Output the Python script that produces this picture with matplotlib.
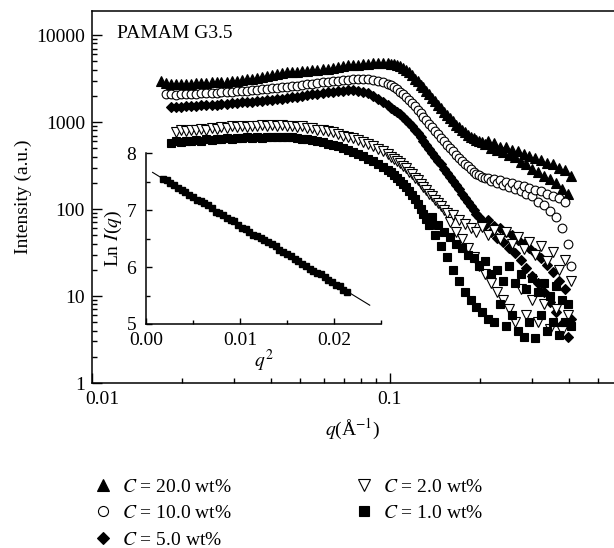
import matplotlib
matplotlib.use("Agg")
import matplotlib.pyplot as plt
import matplotlib.transforms as mtransforms
from matplotlib.ticker import LogLocator, MultipleLocator, NullFormatter
import numpy as np

nan = float("nan")

# q grid (1/Angstrom)
Q = [0.0170, 0.0177, 0.0184, 0.0191, 0.0199, 0.0207, 0.0215, 0.0224, 0.0233, 0.0242,
     0.0252, 0.0262, 0.0272, 0.0283, 0.0294, 0.0306, 0.0318, 0.0331, 0.0344, 0.0358,
     0.0372, 0.0387, 0.0402, 0.0418, 0.0435, 0.0452, 0.0470, 0.0489, 0.0508, 0.0528,
     0.0549, 0.0571, 0.0594, 0.0618, 0.0642, 0.0668, 0.0694, 0.0722, 0.0751, 0.0781,
     0.0812, 0.0844, 0.0878, 0.0913, 0.0949, 0.0987,
     0.1010, 0.1033, 0.1057, 0.1081, 0.1106, 0.1131, 0.1157, 0.1184, 0.1211, 0.1239,
     0.1267, 0.1296, 0.1326, 0.1357, 0.1388, 0.1420, 0.1452, 0.1486, 0.1520, 0.1555,
     0.1591, 0.1627, 0.1665, 0.1703, 0.1742, 0.1782, 0.1823, 0.1865, 0.1908, 0.1952,
     0.1997, 0.2043, 0.2090, 0.2138, 0.2187, 0.2237, 0.2289, 0.2341, 0.2395, 0.2450,
     0.2507, 0.2564, 0.2623, 0.2684, 0.2746, 0.2809, 0.2873, 0.2939, 0.3007, 0.3076,
     0.3147, 0.3219, 0.3293, 0.3369, 0.3446, 0.3526, 0.3607, 0.3690, 0.3775, 0.3861,
     0.3950, 0.4041]

I_20 = [3000, 2820, 2750, 2760, 2740, 2770, 2750, 2790, 2810, 2800,
        2850, 2880, 2870, 2920, 2950, 2980, 3020, 3090, 3160, 3240,
        3310, 3390, 3470, 3550, 3630, 3720, 3760, 3800, 3850, 3890,
        3940, 3980, 4030, 4070, 4170, 4270, 4370, 4470, 4520, 4570,
        4620, 4680, 4730, 4790, 4790, 4730,
        4680, 4620, 4520, 4370, 4220, 3980, 3720, 3470, 3160, 2950,
        2690, 2510, 2290, 2090, 1910, 1740, 1580, 1450, 1320, 1200,
        1100, 1020, 930, 870, 810, 760, 710, 680, 650, 620,
        600, 590, 560, 600, 500, 570, 480, 520, 450, 510,
        420, 480, 400, 460, 350, 430, 330, 410, 290, 390,
        270, 370, 240, 340, 220, 330, 200, 300, 170, 280,
        150, 240]

I_10 = [nan, 2100, 2080, 2060, 2090, 2080, 2120, 2110, 2150, 2140,
        2180, 2170, 2210, 2230, 2220, 2260, 2280, 2300, 2330, 2360,
        2380, 2410, 2440, 2480, 2510, 2550, 2590, 2630, 2680, 2720,
        2770, 2820, 2870, 2910, 2960, 3000, 3040, 3070, 3100, 3120,
        3130, 3120, 3080, 3000, 2900, 2760,
        2650, 2520, 2380, 2230, 2080, 1950, 1800, 1650, 1510, 1380,
        1260, 1150, 1050, 960, 870, 790, 720, 660, 600, 550,
        500, 460, 420, 390, 360, 330, 310, 290, 270, 255,
        245, 235, 225, 230, 210, 220, 200, 215, 190, 205,
        180, 200, 170, 190, 160, 185, 150, 175, 140, 165,
        120, 160, 110, 150, 95, 140, 80, 135, 60, 120,
        40, 22]

I_5 = [nan, nan, 1480, 1500, 1490, 1520, 1510, 1540, 1550, 1560,
       1580, 1590, 1610, 1620, 1640, 1660, 1680, 1700, 1720, 1740,
       1760, 1780, 1800, 1830, 1860, 1890, 1920, 1960, 2000, 2040,
       2080, 2120, 2160, 2200, 2240, 2270, 2300, 2320, 2310, 2280,
       2220, 2130, 2000, 1850, 1720, 1590,
       1450, 1380, 1310, 1240, 1150, 1060, 970, 890, 810, 740,
       670, 610, 550, 495, 445, 400, 360, 325, 290, 260,
       235, 210, 190, 170, 150, 135, 120, 108, 98, 88,
       80, 72, 66, 74, 55, 64, 47, 60, 42, 54,
       36, 50, 31, 44, 26, 40, 21, 36, 17, 31,
       14, 27, 11, 23, 8.5, 19, 6.5, 15, 4.8, 12,
       3.4, 5.5]

I_2 = [nan, nan, nan, 760, 800, 780, 820, 800, 840, 820,
       860, 840, 880, 860, 890, 870, 900, 880, 910, 890,
       920, 900, 930, 905, 925, 900, 910, 880, 890, 860,
       850, 820, 800, 780, 760, 730, 700, 680, 650, 620,
       590, 560, 530, 495, 460, 425,
       400, 380, 360, 340, 315, 295, 270, 250, 230, 215,
       195, 180, 165, 150, 140, 128, 118, 108, 98, 90,
       70, 85, 55, 75, 45, 68, 36, 60, 28, 55,
       22, 62, 18, 50, 14, 58, 11, 45, 9, 55,
       7, 40, 5, 48, 12, 35, 6, 42, 9, 30,
       5, 38, 8, 25, 4.2, 32, 7, 20, 4, 26,
       6, 15]

I_1 = [nan, nan, 580, 600, 590, 610, 600, 620, 610, 630,
       620, 640, 630, 650, 640, 660, 650, 665, 655, 670,
       660, 675, 665, 680, 670, 675, 665, 660, 645, 640,
       620, 605, 585, 565, 545, 525, 500, 480, 455, 430,
       405, 380, 355, 330, 305, 280,
       265, 245, 230, 212, 195, 178, 160, 145, 130, 115,
       100, 88, 76, 66, 80, 50, 65, 38, 55, 28,
       48, 20, 40, 15, 36, 11, 30, 9, 27, 7.5,
       22, 6.5, 25, 5.5, 18, 5, 20, 8, 15, 4.5,
       22, 6, 14, 4, 18, 3.4, 12, 5, 16, 3.3,
       11, 6, 14, 4, 10, 5, 13, 3.6, 9, 5,
       8, 4.5]

LABELS = ["$C$ = 20.0 wt%", "$C$ = 10.0 wt%", "$C$ = 5.0 wt%",
          "$C$ = 2.0 wt%", "$C$ = 1.0 wt%"]

# inset: Guinier plot, ln I against q^2
INSET_Q2 = [0.0018, 0.0022, 0.0026, 0.0030, 0.0034, 0.0038, 0.0042, 0.0046, 0.0050, 0.0054,
            0.0058, 0.0062, 0.0066, 0.0070, 0.0074, 0.0078, 0.0082, 0.0086, 0.0090, 0.0094,
            0.0098, 0.0102, 0.0106, 0.0110, 0.0114, 0.0118, 0.0122, 0.0126, 0.0130, 0.0134,
            0.0138, 0.0142, 0.0146, 0.0150, 0.0154, 0.0158, 0.0162, 0.0166, 0.0170, 0.0174,
            0.0178, 0.0182, 0.0186, 0.0190, 0.0194, 0.0198, 0.0202, 0.0206, 0.0210, 0.0214]
INSET_LN = [7.55, 7.52, 7.47, 7.44, 7.39, 7.35, 7.31, 7.26, 7.23, 7.18,
            7.15, 7.12, 7.09, 7.03, 6.97, 6.94, 6.91, 6.86, 6.83, 6.80,
            6.74, 6.69, 6.66, 6.62, 6.57, 6.54, 6.51, 6.47, 6.43, 6.40,
            6.36, 6.30, 6.26, 6.23, 6.19, 6.14, 6.10, 6.05, 6.02, 5.97,
            5.93, 5.90, 5.87, 5.82, 5.77, 5.74, 5.69, 5.66, 5.60, 5.56]
FIT_Q2 = [0.0007, 0.0238]
FIT_LN = [7.66, 5.33]

for name, arr in [("I_20", I_20), ("I_10", I_10), ("I_5", I_5), ("I_2", I_2), ("I_1", I_1)]:
    if len(arr) != len(Q):
        raise ValueError(f"{name} has {len(arr)} values, Q has {len(Q)}")

plt.rcParams["font.family"] = ["Liberation Serif", "DejaVu Serif"]
plt.rcParams["mathtext.fontset"] = "stix"
plt.rcParams["axes.linewidth"] = 1.1
FS = 14

fig = plt.figure(figsize=(6.14, 5.48), dpi=100)
ax = fig.add_axes([92 / 614, 1 - 383 / 548, (614 - 92) / 614, (383 - 11) / 548])

styles = [("^", "k", 7.0), ("o", "w", 6.3), ("D", "k", 5.3), ("v", "w", 7.0), ("s", "k", 6.0)]
handles = []
for y, label, (marker, face, ms) in zip([I_20, I_10, I_5, I_2, I_1], LABELS, styles):
    h, = ax.plot(Q, y, ls="none", marker=marker, mfc=face, mec="k", mew=0.8, ms=ms, label=label)
    handles.append(h)

ax.set_xscale("log")
ax.set_yscale("log")
ax.set_xlim(0.01, 0.565)
ax.set_ylim(1, 18900)
ax.spines["right"].set_visible(False)
xlabels = ax.set_xticks([0.01, 0.1], ["0.01", "0.1"])
ax.set_yticks([1, 10, 100, 1000, 10000], ["1", "10", "100", "1000", "10000"])
ax.xaxis.set_minor_locator(LogLocator(base=10, subs=np.arange(2, 10), numticks=20))
ax.yaxis.set_minor_locator(LogLocator(base=10, subs=np.arange(2, 10), numticks=20))
ax.xaxis.set_minor_formatter(NullFormatter())
ax.yaxis.set_minor_formatter(NullFormatter())
ax.tick_params(which="both", direction="in", top=False, right=False, labelsize=FS, width=1)
ax.tick_params(which="major", length=7)
ax.tick_params(which="minor", length=3.5)
ax.tick_params(axis="x", pad=6)
ax.tick_params(axis="y", pad=5)
# the "0.01" label sits a little right of its tick, clear of the "1"
shift = mtransforms.ScaledTranslation(10 / 100, 0, fig.dpi_scale_trans)
for lab in ax.get_xticklabels()[:1]:
    lab.set_transform(lab.get_transform() + shift)
ax.set_xlabel("$q$(Å$^{-1}$)", fontsize=FS, labelpad=6)
ax.set_ylabel("Intensity (a.u.)", fontsize=FS, labelpad=3)
fig.text(117 / 614, 1 - 33 / 548, "PAMAM G3.5", fontsize=FS, va="center")

axin = fig.add_axes([146 / 614, 1 - 324 / 548, (381 - 146) / 614, (324 - 153) / 548])
axin.patch.set_visible(False)
axin.plot(INSET_Q2, INSET_LN, ls="none", marker="s", ms=5, color="k")
axin.plot(FIT_Q2, FIT_LN, color="k", lw=0.8)
axin.set_xlim(0, 0.025)
axin.set_ylim(5, 8)
axin.spines["top"].set_visible(False)
axin.spines["right"].set_visible(False)
axin.set_xticks([0, 0.01, 0.02], ["0.00", "0.01", "0.02"])
axin.set_yticks([5, 6, 7, 8], ["5", "6", "7", "8"])
axin.xaxis.set_minor_locator(MultipleLocator(0.005))
axin.yaxis.set_minor_locator(MultipleLocator(0.5))
axin.tick_params(which="both", direction="in", labelsize=FS, width=1)
axin.tick_params(which="major", length=4)
axin.tick_params(which="minor", length=3)
axin.tick_params(axis="x", pad=6)
axin.tick_params(axis="y", pad=7)
axin.set_xlabel("$q^2$", fontsize=FS, labelpad=-1)
axin.set_ylabel("Ln $I$($q$)", fontsize=FS, labelpad=2)

legend_kw = dict(frameon=False, fontsize=FS, borderpad=0, borderaxespad=0,
                 handlelength=1.0, handletextpad=0.5, labelspacing=0.46, markerscale=1.15)
fig.legend(handles=handles[:3], loc="upper left", bbox_to_anchor=(93 / 614, 1 - 478 / 548), **legend_kw)
fig.legend(handles=handles[3:], loc="upper left", bbox_to_anchor=(354 / 614, 1 - 478 / 548), **legend_kw)

fig.savefig("out.png", dpi=100)
